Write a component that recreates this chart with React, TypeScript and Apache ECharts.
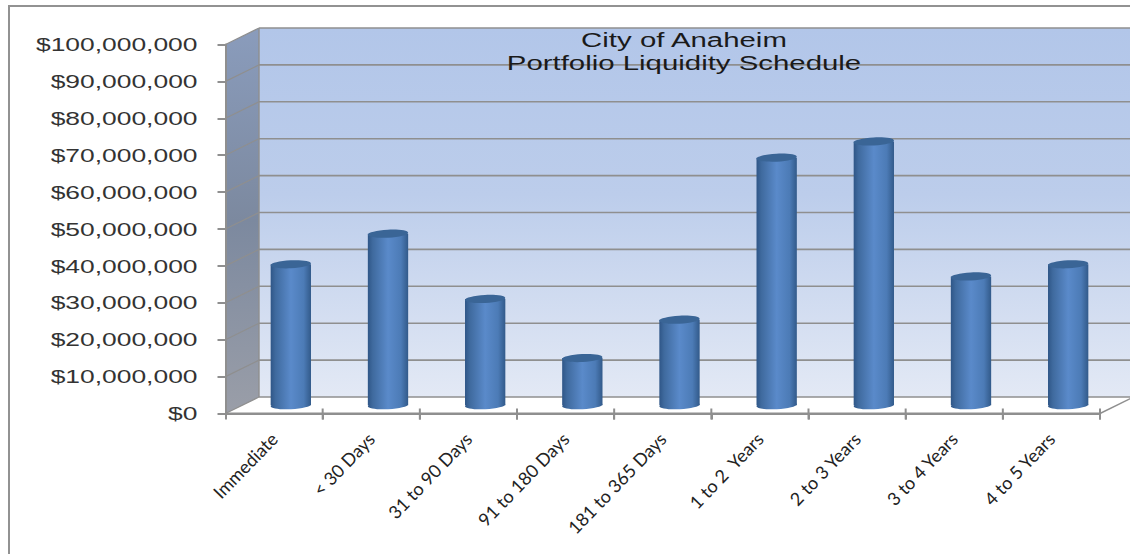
import React, { useEffect, useRef } from "react";
import * as echarts from "echarts";

const categories = ["Immediate", "< 30 Days", "31 to 90 Days", "91 to 180 Days", "181 to 365 Days", "1 to 2  Years", "2 to 3 Years", "3 to 4 Years", "4 to 5 Years"];
const balances = [38200000, 46500000, 28800000, 12800000, 23200000, 67100000, 71500000, 34900000, 38200000];
const yTicks = [0, 10000000, 20000000, 30000000, 40000000, 50000000, 60000000, 70000000, 80000000, 90000000, 100000000];
const titleLines = ["City of Anaheim", "Portfolio Liquidity Schedule"];

const DX = 33.5;
const DY = -16.5;
const LINE = "#8f8f8f";
const fmt = (v: number) => "$" + v.toLocaleString("en-US");

function wallsItem(params: any, api: any) {
  const cs = params.coordSys;
  const left = cs.x, right = cs.x + cs.width;
  const yTop = api.coord([0, 100000000])[1];
  const yBase = api.coord([0, 0])[1];
  const band = api.size([1, 0])[0];
  const children: any[] = [
    { type: "polygon", shape: { points: [[left, yBase], [right, yBase], [right + DX, yBase + DY], [left + DX, yBase + DY]] }, style: { fill: "#ffffff" } },
    {
      type: "rect", shape: { x: left + DX, y: yTop + DY, width: cs.width, height: yBase - yTop },
      style: { fill: new echarts.graphic.LinearGradient(0, 0, 0, 1, [{ offset: 0, color: "#b2c6e9" }, { offset: 0.45, color: "#bccdeb" }, { offset: 1, color: "#e3e9f5" }]) },
    },
    {
      type: "polygon", shape: { points: [[left, yBase], [left + DX, yBase + DY], [left + DX, yTop + DY], [left, yTop]] },
      style: { fill: new echarts.graphic.LinearGradient(0, 0, 0, 1, [{ offset: 0, color: "#8a9cbc" }, { offset: 0.5, color: "#7c899f" }, { offset: 1, color: "#9a9ea8" }]) },
    },
  ];
  yTicks.forEach((v) => {
    const y = api.coord([0, v])[1];
    children.push({ type: "line", shape: { x1: left + DX, y1: y + DY, x2: right + DX, y2: y + DY }, style: { stroke: LINE, lineWidth: 1.6 } });
    children.push({ type: "line", shape: { x1: left, y1: y, x2: left + DX, y2: y + DY }, style: { stroke: LINE, lineWidth: 1.2 } });
  });
  children.push({ type: "line", shape: { x1: left + DX, y1: yBase + DY, x2: left + DX, y2: yTop + DY }, style: { stroke: LINE, lineWidth: 1.4 } });
  children.push({ type: "line", shape: { x1: right, y1: yBase, x2: right + DX, y2: yBase + DY }, style: { stroke: LINE, lineWidth: 1.4 } });
  children.push({ type: "line", shape: { x1: left, y1: yBase, x2: right, y2: yBase }, style: { stroke: LINE, lineWidth: 2 } });
  categories.forEach((_, i) => {
    const x = left + band * (i + 1);
    children.push({ type: "line", shape: { x1: x, y1: yBase - 5, x2: x, y2: yBase + 6 }, style: { stroke: LINE, lineWidth: 2 } });
  });
  return { type: "group", children };
}

function barItem(params: any, api: any) {
  const i = api.value(0);
  const top = api.coord([i, api.value(1)]);
  const base = api.coord([i, 0]);
  const w = api.size([1, 0])[0] * 0.415;
  const cx = top[0] + DX / 2;
  const yT = top[1] + DY / 2;
  const yB = base[1] + DY / 2;
  const fill = new echarts.graphic.LinearGradient(0, 0, 1, 0, [
    { offset: 0, color: "#2f5687" },
    { offset: 0.12, color: "#3f6a9e" },
    { offset: 0.5, color: "#5a8aca" },
    { offset: 0.82, color: "#4c7bb6" },
    { offset: 1, color: "#325a8a" },
  ]);
  const ell = (cy: number, style: any) => ({
    type: "ellipse", x: cx, y: cy, rotation: 0.05,
    shape: { cx: 0, cy: 0, rx: w / 2, ry: 4 }, style,
  });
  return {
    type: "group",
    children: [
      ell(yB, { fill }),
      { type: "rect", shape: { x: cx - w / 2, y: yT, width: w, height: yB - yT }, style: { fill } },
      ell(yT, { fill: "#3a6596" }),
    ],
  };
}

function yLabelItem(params: any, api: any) {
  const v = api.value(0);
  const p = api.coord([0, v]);
  return {
    type: "text", x: params.coordSys.x - 28, y: p[1], scaleX: 1.39,
    style: { text: fmt(v), align: "right", verticalAlign: "middle", fontFamily: "Liberation Sans", fontSize: 19, fill: "#333333" },
  };
}

export default function App() {
  const ref = useRef<HTMLDivElement>(null);
  useEffect(() => {
    const chart = echarts.init(ref.current!, undefined, { renderer: "svg" });
    chart.setOption({
      animation: false,
      backgroundColor: "#ffffff",
      grid: { left: 225.5, top: 44.5, width: 874.5, height: 369, containLabel: false },
      xAxis: {
        type: "category", data: categories, z: 10,
        axisLine: { lineStyle: { color: LINE, width: 2 } },
        axisTick: { show: true, length: 6, alignWithLabel: false, lineStyle: { color: LINE, width: 2 } },
        axisLabel: { interval: 0, rotate: 46, margin: 22, fontFamily: "Lato", fontSize: 18, color: "#222222" },
      },
      yAxis: {
        type: "value", min: 0, max: 100000000, interval: 10000000, z: 10,
        splitLine: { show: false },
        axisLine: { show: true, lineStyle: { color: LINE, width: 2 } },
        axisTick: { show: true, length: 8, lineStyle: { color: LINE, width: 2 } },
        axisLabel: { show: false },
      },
      series: [
        { type: "custom", name: "walls", z: 0, silent: true, data: [[0, 0]], renderItem: wallsItem, clip: false },
        { type: "custom", name: "Portfolio Liquidity", z: 3, data: balances.map((v, i) => [i, v]), encode: { x: 0, y: 1 }, renderItem: barItem, clip: false },
        { type: "custom", name: "yLabels", z: 4, silent: true, data: yTicks.map((v) => [v]), encode: { y: 0 }, renderItem: yLabelItem, clip: false },
      ],
      graphic: [
        { type: "rect", z: 20, silent: true, shape: { x: 9, y: 6, width: 1200, height: 700 }, style: { fill: "none", stroke: "#929292", lineWidth: 2 } },
        ...titleLines.map((t, i) => ({
          type: "text", z: 30, x: 684, y: 40 + i * 23, scaleX: 1.47, silent: true,
          style: { text: t, align: "center", verticalAlign: "middle", fontFamily: "Liberation Sans", fontSize: 20, fill: "#1a1a1a" },
        })),
      ],
    });
    return () => chart.dispose();
  }, []);
  return <div ref={ref} style={{ position: "fixed", left: 0, top: 0, width: 1130, height: 554 }} />;
}
